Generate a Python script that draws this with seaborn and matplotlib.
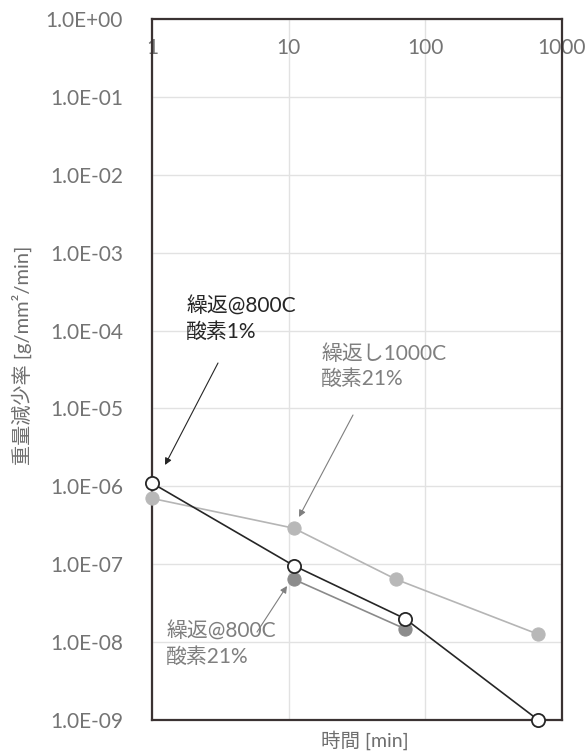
import numpy as np
import pandas as pd
import matplotlib
matplotlib.use("Agg")
import matplotlib.pyplot as plt
from matplotlib.ticker import FixedLocator, FuncFormatter, NullLocator
import seaborn as sns

# Mass-loss rate vs. time for three cyclic oxidation conditions
t_1000c_o21 = [1.0, 10.9, 61.0, 670.0]
r_1000c_o21 = [7.0e-7, 2.9e-7, 6.4e-8, 1.26e-8]

t_800c_o21 = [10.9, 71.0]
r_800c_o21 = [6.4e-8, 1.48e-8]

t_800c_o1 = [1.0, 10.9, 71.0, 670.0]
r_800c_o1 = [1.1e-6, 9.6e-8, 2.0e-8, 1.0e-9]

x_ticks = [1, 10, 100, 1000]
y_ticks = [10.0 ** e for e in range(-9, 1)]

sns.set_theme(style="white")
plt.rcParams["font.family"] = ["Lato", "Noto Sans CJK JP", "DejaVu Sans"]

fig = plt.figure(figsize=(5.86, 7.51), dpi=100)
ax = fig.add_axes([152 / 586, 1 - 720 / 751, 410 / 586, 701 / 751])

ax.set_xscale("log")
ax.set_yscale("log")
ax.set_xlim(1, 1000)
ax.set_ylim(1e-9, 1)

ax.grid(True, which="major", color="#e2e2e2", lw=1.0)
ax.set_axisbelow(True)

df_a = pd.DataFrame({"t": t_1000c_o21, "r": r_1000c_o21})
df_b = pd.DataFrame({"t": t_800c_o21, "r": r_800c_o21})
df_c = pd.DataFrame({"t": t_800c_o1, "r": r_800c_o1})

sns.lineplot(data=df_a, x="t", y="r", ax=ax, color="#b5b5b5", lw=1.2,
             marker="o", markersize=9.5, markerfacecolor="#b8b8b8",
             markeredgecolor="#b8b8b8", clip_on=False, zorder=3)
sns.lineplot(data=df_b, x="t", y="r", ax=ax, color="#8a8a8a", lw=1.2,
             marker="o", markersize=9.5, markerfacecolor="#8c8c8c",
             markeredgecolor="#8c8c8c", clip_on=False, zorder=4)
sns.lineplot(data=df_c, x="t", y="r", ax=ax, color="#262626", lw=1.2,
             marker="o", markersize=9.5, markerfacecolor="white",
             markeredgecolor="#262626", markeredgewidth=1.3,
             clip_on=False, zorder=5)

for s in ax.spines.values():
    s.set_color("#3a3232")
    s.set_linewidth(1.6)

tick_color = "#747474"
ax.yaxis.set_major_locator(FixedLocator(y_ticks))
ax.yaxis.set_minor_locator(NullLocator())
ax.yaxis.set_major_formatter(FuncFormatter(lambda v, p: f"{v:.1E}"))
ax.tick_params(axis="y", length=0, pad=21, labelsize=15, labelcolor=tick_color)

ax.xaxis.set_major_locator(FixedLocator(x_ticks))
ax.xaxis.set_minor_locator(NullLocator())
ax.xaxis.set_major_formatter(FuncFormatter(lambda v, p: f"{v:g}"))
ax.tick_params(axis="x", top=True, labeltop=True, bottom=False, labelbottom=False,
               length=0, pad=-28, labelsize=15, labelcolor=tick_color)

ax.set_xlabel("時間 [min]", fontsize=14, color="#6e6e6e")
ax.xaxis.label.set_va("center")
ax.xaxis.set_label_coords((365 - 152) / 410, -20 / 701)
ax.set_ylabel("重量減少率 [g/mm²/min]", fontsize=14.5, color="#6e6e6e")
ax.yaxis.label.set_va("center")
ax.yaxis.set_label_coords((22 - 152) / 410, (720 - 355) / 701)

# Callouts for each condition
def callout(text, txy, tail, head, color):
    ax.text(txy[0], txy[1], text, transform=ax.transAxes, ha="left", va="top",
            fontsize=15, color=color, linespacing=1.3)
    ax.annotate("", xy=head, xytext=tail, xycoords="axes fraction",
                textcoords="axes fraction",
                arrowprops=dict(arrowstyle="-|>", color=color, lw=0.8,
                                mutation_scale=10, shrinkA=0, shrinkB=0))

def fx(px):
    return (px - 152) / 410

def fy(py):
    return (720 - py) / 701

callout("繰返@800C\n酸素1%", (fx(186), fy(297)), (fx(218), fy(363)), (fx(165), fy(465)), "#262626")
callout("繰返し1000C\n酸素21%", (fx(321), fy(344)), (fx(353), fy(415)), (fx(299), fy(517)), "#7f7f7f")
callout("繰返@800C\n酸素21%", (fx(166), fy(622)), (fx(257), fy(632)), (fx(287), fy(586)), "#7f7f7f")

fig.savefig("out.png", dpi=100)
